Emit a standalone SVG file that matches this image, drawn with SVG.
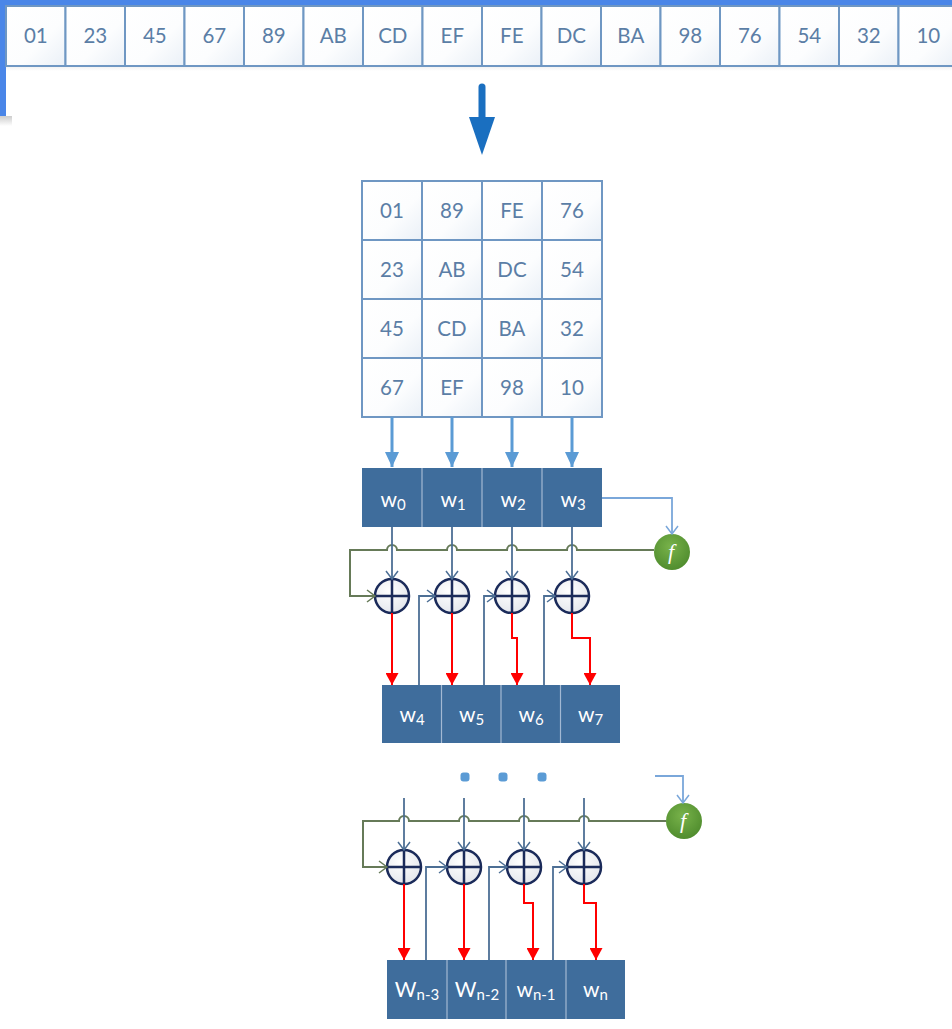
<svg xmlns="http://www.w3.org/2000/svg" width="952" height="1029" viewBox="0 0 952 1029">
<defs>
<style>
.cell{fill:url(#cellg);stroke:#6f97c3;stroke-width:2}
.ct{font-family:Lato,"Liberation Sans",sans-serif;font-size:20.5px;fill:#5b7ea6;text-anchor:middle}
.wb{fill:#3f6d9c}
.wd{stroke:#a3b9d3;stroke-width:1.2}
.wt{font-family:Lato,"Liberation Sans",sans-serif;font-size:21px;fill:#ffffff;text-anchor:middle}
.sub{font-size:15px}
.xc{fill:url(#xorg);stroke:#1b2b5a;stroke-width:2.5}
.xl{stroke:#1b2b5a;stroke-width:2.5}
.ft{font-family:"Liberation Serif",serif;font-style:italic;font-size:22px;fill:#ffffff;text-anchor:middle}
.grn{stroke:#667a58;stroke-width:2;fill:none}
.vin{stroke:#4d6f95;stroke-width:1.8;fill:none}
.red{stroke:#ff0000;stroke-width:2;fill:none}
.bl{stroke:#7aa7da;stroke-width:1.8;fill:none}
.ar{stroke:#5b9bd5;stroke-width:3;fill:none}
.dot{fill:#5b9bd5}
</style>
<linearGradient id="cellg" x1="0" y1="0" x2="1" y2="1">
<stop offset="0" stop-color="#ffffff"/>
<stop offset="0.6" stop-color="#fcfdfe"/>
<stop offset="1" stop-color="#eaf0f7"/>
</linearGradient>
<radialGradient id="xorg" cx="0.4" cy="0.35" r="0.7">
<stop offset="0" stop-color="#ffffff"/>
<stop offset="1" stop-color="#e3e6ec"/>
</radialGradient>
<radialGradient id="fg" cx="0.45" cy="0.35" r="0.7">
<stop offset="0" stop-color="#78b24a"/>
<stop offset="1" stop-color="#4d8a2c"/>
</radialGradient>
<linearGradient id="shad" x1="0" y1="0" x2="0" y2="1">
<stop offset="0" stop-color="#9a9a9a"/>
<stop offset="1" stop-color="#ffffff"/>
</linearGradient>
<marker id="mBlue" viewBox="0 0 15 14" refX="15" refY="7" markerWidth="15" markerHeight="14" markerUnits="userSpaceOnUse" orient="auto">
<path d="M0,0 L15,7 L0,14 z" fill="#5b9bd5"/>
</marker>
<marker id="mRed" viewBox="0 0 12 13" refX="12" refY="6.5" markerWidth="12" markerHeight="13" markerUnits="userSpaceOnUse" orient="auto">
<path d="M0,0 L12,6.5 L0,13 z" fill="#ff0000"/>
</marker>
<marker id="cN" viewBox="-1 -1 11 14" refX="8" refY="6" markerWidth="11" markerHeight="14" markerUnits="userSpaceOnUse" orient="auto">
<path d="M0,0 L8,6 L0,12" fill="none" stroke="#4d6f95" stroke-width="1.5"/>
</marker>
<marker id="cG" viewBox="-1 -1 11 14" refX="8" refY="6" markerWidth="11" markerHeight="14" markerUnits="userSpaceOnUse" orient="auto">
<path d="M0,0 L8,6 L0,12" fill="none" stroke="#667a58" stroke-width="1.5"/>
</marker>
<marker id="cB" viewBox="-1 -1 11 14" refX="8" refY="6" markerWidth="11" markerHeight="14" markerUnits="userSpaceOnUse" orient="auto">
<path d="M0,0 L8,6 L0,12" fill="none" stroke="#7aa7da" stroke-width="1.5"/>
</marker>
</defs>
<rect x="0" y="0" width="952" height="1029" fill="#ffffff"/>
<!-- window frame -->
<rect x="0" y="0" width="952" height="6" fill="#4a86e8"/>
<rect x="0" y="0" width="6" height="116" fill="#4a86e8"/>
<rect x="0" y="116" width="12" height="10" fill="url(#shad)" opacity="0.5"/>
<rect x="6" y="67" width="946" height="4" fill="url(#shad)" opacity="0.12"/>

<!-- top byte row -->
<g id="input-row">
<rect class="cell" x="6" y="6" width="59.5" height="60"/>
<rect class="cell" x="65.5" y="6" width="59.5" height="60"/>
<rect class="cell" x="125" y="6" width="59.5" height="60"/>
<rect class="cell" x="184.5" y="6" width="59.5" height="60"/>
<rect class="cell" x="244" y="6" width="59.5" height="60"/>
<rect class="cell" x="303.5" y="6" width="59.5" height="60"/>
<rect class="cell" x="363" y="6" width="59.5" height="60"/>
<rect class="cell" x="422.5" y="6" width="59.5" height="60"/>
<rect class="cell" x="482" y="6" width="59.5" height="60"/>
<rect class="cell" x="541.5" y="6" width="59.5" height="60"/>
<rect class="cell" x="601" y="6" width="59.5" height="60"/>
<rect class="cell" x="660.5" y="6" width="59.5" height="60"/>
<rect class="cell" x="720" y="6" width="59.5" height="60"/>
<rect class="cell" x="779.5" y="6" width="59.5" height="60"/>
<rect class="cell" x="839" y="6" width="59.5" height="60"/>
<rect class="cell" x="898.5" y="6" width="59.5" height="60"/>
<text class="ct" x="35.8" y="43">01</text>
<text class="ct" x="95.3" y="43">23</text>
<text class="ct" x="154.8" y="43">45</text>
<text class="ct" x="214.3" y="43">67</text>
<text class="ct" x="273.8" y="43">89</text>
<text class="ct" x="333.3" y="43">AB</text>
<text class="ct" x="392.8" y="43">CD</text>
<text class="ct" x="452.3" y="43">EF</text>
<text class="ct" x="511.8" y="43">FE</text>
<text class="ct" x="571.3" y="43">DC</text>
<text class="ct" x="630.8" y="43">BA</text>
<text class="ct" x="690.3" y="43">98</text>
<text class="ct" x="749.8" y="43">76</text>
<text class="ct" x="809.3" y="43">54</text>
<text class="ct" x="868.8" y="43">32</text>
<text class="ct" x="928.3" y="43">10</text>
</g>

<!-- state matrix -->
<g id="matrix">
<rect class="cell" x="362" y="181" width="60" height="59"/>
<rect class="cell" x="422" y="181" width="60" height="59"/>
<rect class="cell" x="482" y="181" width="60" height="59"/>
<rect class="cell" x="542" y="181" width="60" height="59"/>
<rect class="cell" x="362" y="240" width="60" height="59"/>
<rect class="cell" x="422" y="240" width="60" height="59"/>
<rect class="cell" x="482" y="240" width="60" height="59"/>
<rect class="cell" x="542" y="240" width="60" height="59"/>
<rect class="cell" x="362" y="299" width="60" height="59"/>
<rect class="cell" x="422" y="299" width="60" height="59"/>
<rect class="cell" x="482" y="299" width="60" height="59"/>
<rect class="cell" x="542" y="299" width="60" height="59"/>
<rect class="cell" x="362" y="358" width="60" height="59"/>
<rect class="cell" x="422" y="358" width="60" height="59"/>
<rect class="cell" x="482" y="358" width="60" height="59"/>
<rect class="cell" x="542" y="358" width="60" height="59"/>
<text class="ct" x="392" y="218">01</text>
<text class="ct" x="452" y="218">89</text>
<text class="ct" x="512" y="218">FE</text>
<text class="ct" x="572" y="218">76</text>
<text class="ct" x="392" y="277">23</text>
<text class="ct" x="452" y="277">AB</text>
<text class="ct" x="512" y="277">DC</text>
<text class="ct" x="572" y="277">54</text>
<text class="ct" x="392" y="336">45</text>
<text class="ct" x="452" y="336">CD</text>
<text class="ct" x="512" y="336">BA</text>
<text class="ct" x="572" y="336">32</text>
<text class="ct" x="392" y="395">67</text>
<text class="ct" x="452" y="395">EF</text>
<text class="ct" x="512" y="395">98</text>
<text class="ct" x="572" y="395">10</text>
</g>

<!-- words w0..w3 -->
<g id="words-0-3">
<rect class="wb" x="362" y="468" width="240" height="59"/>
<line class="wd" x1="422" y1="468" x2="422" y2="527"/>
<line class="wd" x1="482" y1="468" x2="482" y2="527"/>
<line class="wd" x1="542" y1="468" x2="542" y2="527"/>
<text class="wt" x="393" y="507">w<tspan class="sub" dy="3">0</tspan></text>
<text class="wt" x="453" y="507">w<tspan class="sub" dy="3">1</tspan></text>
<text class="wt" x="513" y="507">w<tspan class="sub" dy="3">2</tspan></text>
<text class="wt" x="573" y="507">w<tspan class="sub" dy="3">3</tspan></text>
</g>

<!-- words w4..w7 -->
<g id="words-4-7">
<rect class="wb" x="382" y="685" width="238" height="58"/>
<line class="wd" x1="441.5" y1="685" x2="441.5" y2="743"/>
<line class="wd" x1="501" y1="685" x2="501" y2="743"/>
<line class="wd" x1="560.5" y1="685" x2="560.5" y2="743"/>
<text class="wt" x="412" y="722">w<tspan class="sub" dy="3">4</tspan></text>
<text class="wt" x="471.5" y="722">w<tspan class="sub" dy="3">5</tspan></text>
<text class="wt" x="531" y="722">w<tspan class="sub" dy="3">6</tspan></text>
<text class="wt" x="590.5" y="722">w<tspan class="sub" dy="3">7</tspan></text>
</g>

<!-- words wn-3..wn -->
<g id="words-n">
<rect class="wb" x="387" y="960" width="238" height="59"/>
<line class="wd" x1="447" y1="960" x2="447" y2="1019"/>
<line class="wd" x1="506" y1="960" x2="506" y2="1019"/>
<line class="wd" x1="566" y1="960" x2="566" y2="1019"/>
<text class="wt" x="417" y="997">W<tspan class="sub" dy="3">n-3</tspan></text>
<text class="wt" x="477" y="997">W<tspan class="sub" dy="3">n-2</tspan></text>
<text class="wt" x="536" y="997">w<tspan class="sub" dy="3">n-1</tspan></text>
<text class="wt" x="595.5" y="997">w<tspan class="sub" dy="3">n</tspan></text>
</g>

<!-- XOR nodes, round 1 -->
<g id="xor-1a"><circle class="xc" cx="392" cy="596" r="17"/><line class="xl" x1="375" y1="596" x2="409" y2="596"/><line class="xl" x1="392" y1="579" x2="392" y2="613"/></g>
<g id="xor-1b"><circle class="xc" cx="452" cy="596" r="17"/><line class="xl" x1="435" y1="596" x2="469" y2="596"/><line class="xl" x1="452" y1="579" x2="452" y2="613"/></g>
<g id="xor-1c"><circle class="xc" cx="512" cy="596" r="17"/><line class="xl" x1="495" y1="596" x2="529" y2="596"/><line class="xl" x1="512" y1="579" x2="512" y2="613"/></g>
<g id="xor-1d"><circle class="xc" cx="572" cy="596" r="17"/><line class="xl" x1="555" y1="596" x2="589" y2="596"/><line class="xl" x1="572" y1="579" x2="572" y2="613"/></g>

<!-- XOR nodes, last round -->
<g id="xor-na"><circle class="xc" cx="404" cy="867" r="17"/><line class="xl" x1="387" y1="867" x2="421" y2="867"/><line class="xl" x1="404" y1="850" x2="404" y2="884"/></g>
<g id="xor-nb"><circle class="xc" cx="464" cy="867" r="17"/><line class="xl" x1="447" y1="867" x2="481" y2="867"/><line class="xl" x1="464" y1="850" x2="464" y2="884"/></g>
<g id="xor-nc"><circle class="xc" cx="524" cy="867" r="17"/><line class="xl" x1="507" y1="867" x2="541" y2="867"/><line class="xl" x1="524" y1="850" x2="524" y2="884"/></g>
<g id="xor-nd"><circle class="xc" cx="584" cy="867" r="17"/><line class="xl" x1="567" y1="867" x2="601" y2="867"/><line class="xl" x1="584" y1="850" x2="584" y2="884"/></g>

<!-- f nodes -->
<g id="f-1"><circle cx="672" cy="552" r="18" fill="url(#fg)"/><text class="ft" x="671" y="559">f</text></g>
<g id="f-n"><circle cx="684" cy="821" r="18" fill="url(#fg)"/><text class="ft" x="683" y="828">f</text></g>

<!-- ellipsis -->
<g id="ellipsis">
<rect class="dot" x="460.5" y="772.5" width="9" height="9" rx="3"/>
<rect class="dot" x="498.5" y="772.5" width="9" height="9" rx="3"/>
<rect class="dot" x="537.5" y="772.5" width="9" height="9" rx="3"/>
</g>

<!-- connectors -->
<g id="connectors">
<line x1="482" y1="87" x2="482" y2="122" stroke="#1a6fc0" stroke-width="7" stroke-linecap="round"/>
<polygon points="469,117 495,117 482,155" fill="#1a6fc0"/>
<line class="ar" x1="392" y1="417" x2="392" y2="467" marker-end="url(#mBlue)"/>
<line class="ar" x1="452" y1="417" x2="452" y2="467" marker-end="url(#mBlue)"/>
<line class="ar" x1="512" y1="417" x2="512" y2="467" marker-end="url(#mBlue)"/>
<line class="ar" x1="572" y1="417" x2="572" y2="467" marker-end="url(#mBlue)"/>
<path class="bl" d="M602,498 H672 V534" marker-end="url(#cB)"/>
<path class="grn" d="M654,550 H577 A5,5 0 0 0 567,550 H517 A5,5 0 0 0 507,550 H457 A5,5 0 0 0 447,550 H397 A5,5 0 0 0 387,550 H350 V596 H375" marker-end="url(#cG)"/>
<line class="vin" x1="392" y1="527" x2="392" y2="579" marker-end="url(#cN)"/>
<line class="vin" x1="452" y1="527" x2="452" y2="579" marker-end="url(#cN)"/>
<line class="vin" x1="512" y1="527" x2="512" y2="579" marker-end="url(#cN)"/>
<line class="vin" x1="572" y1="527" x2="572" y2="579" marker-end="url(#cN)"/>
<path class="vin" d="M419,685 V596 H435" marker-end="url(#cN)"/>
<path class="vin" d="M484,685 V596 H495" marker-end="url(#cN)"/>
<path class="vin" d="M544,685 V596 H555" marker-end="url(#cN)"/>
<path class="red" d="M392,613 V685" marker-end="url(#mRed)"/>
<path class="red" d="M452,613 V685" marker-end="url(#mRed)"/>
<path class="red" d="M512,613 V638 H517 V685" marker-end="url(#mRed)"/>
<path class="red" d="M572,613 V638 H590 V685" marker-end="url(#mRed)"/>
<path class="bl" d="M655,776 H683 V803" marker-end="url(#cB)"/>
<path class="grn" d="M666,821 H589 A5,5 0 0 0 579,821 H529 A5,5 0 0 0 519,821 H469 A5,5 0 0 0 459,821 H409 A5,5 0 0 0 399,821 H363 V867 H387" marker-end="url(#cG)"/>
<line class="vin" x1="404" y1="798" x2="404" y2="850" marker-end="url(#cN)"/>
<line class="vin" x1="464" y1="798" x2="464" y2="850" marker-end="url(#cN)"/>
<line class="vin" x1="524" y1="798" x2="524" y2="850" marker-end="url(#cN)"/>
<line class="vin" x1="584" y1="798" x2="584" y2="850" marker-end="url(#cN)"/>
<path class="vin" d="M426,960 V867 H447" marker-end="url(#cN)"/>
<path class="vin" d="M489,960 V867 H507" marker-end="url(#cN)"/>
<path class="vin" d="M553,960 V867 H567" marker-end="url(#cN)"/>
<path class="red" d="M404,884 V960" marker-end="url(#mRed)"/>
<path class="red" d="M464,884 V960" marker-end="url(#mRed)"/>
<path class="red" d="M524,884 V903 H533 V960" marker-end="url(#mRed)"/>
<path class="red" d="M584,884 V903 H596 V960" marker-end="url(#mRed)"/>
</g>
</svg>
